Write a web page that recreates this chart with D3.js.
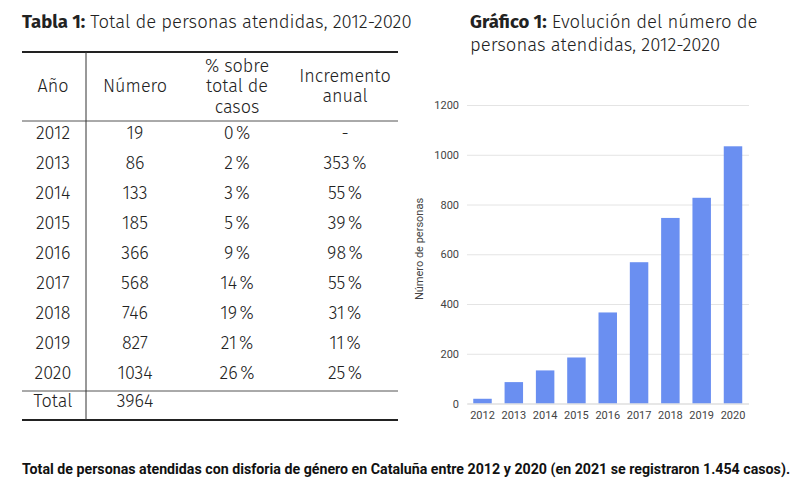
<!DOCTYPE html>
<html><head><meta charset="utf-8">
<script src="https://cdn.jsdelivr.net/npm/d3@7"></script>
<style>
body{margin:0;background:#fff;}
svg{display:block;}
</style></head>
<body><svg id="c" width="797" height="497"></svg>
<script>
const years = [2012, 2013, 2014, 2015, 2016, 2017, 2018, 2019, 2020];
const personas = [19, 86, 133, 185, 366, 568, 746, 827, 1034];
const pctTotal = ["0\u202F%", "2\u202F%", "3\u202F%", "5\u202F%", "9\u202F%", "14\u202F%", "19\u202F%", "21\u202F%", "26\u202F%"];
const incremento = ["-", "353\u202F%", "55\u202F%", "39\u202F%", "98\u202F%", "55\u202F%", "31\u202F%", "11\u202F%", "25\u202F%"];
const total = 3964;
const yTicks = [0, 200, 400, 600, 800, 1000, 1200];

const svg = d3.select("#c");
const tFont = "'Fira Sans','Noto Sans','Open Sans',sans-serif";
const txt = "#222";

// ---- Table ----
svg.append("text").attr("x", 22).attr("y", 28).attr("font-family", tFont).attr("font-size", 18.5).attr("fill", txt)
  .call(t => {
    t.append("tspan").attr("font-weight", 700).text("Tabla 1:");
    t.append("tspan").attr("font-weight", 300).text(" Total de personas atendidas, 2012-2020");
  });

const colX = [53, 135, 237, 345];
const rowY = d3.scaleBand().domain(years).range([118, 388]);
const hdr = svg.append("g").attr("font-family", tFont).attr("font-size", 18).attr("font-weight", 300).attr("fill", txt).attr("text-anchor", "middle");
const headers = [["Año"], ["Número"], ["% sobre", "total de", "casos"], ["Incremento", "anual"]];
headers.forEach((lines, i) => {
  const lh = 20.5;
  const start = 86 - (lines.length - 1) * lh / 2;
  lines.forEach((l, j) => hdr.append("text").attr("x", colX[i]).attr("y", start + j * lh + 6).text(l));
});

const body = svg.append("g").attr("font-family", tFont).attr("font-size", 18).attr("font-weight", 300).attr("fill", txt).attr("text-anchor", "middle");
years.forEach((yr, i) => {
  const cy = rowY(yr) + rowY.bandwidth() / 2 + 6;
  const row = [yr, personas[i], pctTotal[i], incremento[i]];
  row.forEach((v, k) => body.append("text").attr("x", colX[k]).attr("y", cy).text(v));
});
body.append("text").attr("x", 53).attr("y", 407).text("Total");
body.append("text").attr("x", 135).attr("y", 407).text(total);

svg.append("line").attr("x1", 22).attr("x2", 398).attr("y1", 52).attr("y2", 52).attr("stroke", "#222").attr("stroke-width", 2);
svg.append("line").attr("x1", 22).attr("x2", 398).attr("y1", 121).attr("y2", 121).attr("stroke", "#555").attr("stroke-width", 1);
svg.append("line").attr("x1", 22).attr("x2", 398).attr("y1", 391).attr("y2", 391).attr("stroke", "#555").attr("stroke-width", 1);
svg.append("line").attr("x1", 22).attr("x2", 398).attr("y1", 420).attr("y2", 420).attr("stroke", "#222").attr("stroke-width", 2);
svg.append("line").attr("x1", 86).attr("x2", 86).attr("y1", 52).attr("y2", 420).attr("stroke", "#333").attr("stroke-width", 1);

// ---- Chart ----
svg.append("text").attr("x", 470).attr("y", 28).attr("font-family", tFont).attr("font-size", 18.5).attr("fill", txt)
  .call(t => {
    t.append("tspan").attr("font-weight", 700).text("Gráfico 1:");
    t.append("tspan").attr("font-weight", 300).text(" Evolución del número de");
  });
svg.append("text").attr("x", 470).attr("y", 51).attr("font-family", tFont).attr("font-size", 18.5).attr("font-weight", 300).attr("fill", txt)
  .text("personas atendidas, 2012-2020");

const x = d3.scaleBand().domain(years).range([467, 748.5]).paddingInner(0.41).paddingOuter(0.2);
const y = d3.scaleLinear().domain([0, 1200]).range([403.5, 105]);
const cFont = "Roboto, Arial, sans-serif";

const ya = svg.append("g").attr("transform", "translate(467,0)")
  .call(d3.axisLeft(y).tickValues(yTicks).tickFormat(d3.format("d")).tickSize(-282).tickPadding(8));
ya.select(".domain").remove();
ya.selectAll(".tick line").attr("stroke", "#e4e4e4");
ya.selectAll(".tick text").attr("font-family", cFont).attr("font-size", 11).attr("fill", "#444");

svg.append("g").selectAll("rect").data(years).join("rect")
  .attr("x", d => x(d)).attr("width", x.bandwidth())
  .attr("y", (d, i) => y(personas[i])).attr("height", (d, i) => y(0) - y(personas[i]))
  .attr("fill", "#6a8ff1");

const xa = svg.append("g").attr("transform", "translate(0,403.5)")
  .call(d3.axisBottom(x).tickSize(0).tickPadding(8));
xa.select(".domain").attr("stroke", "#ddd");
xa.selectAll(".tick text").attr("font-family", cFont).attr("font-size", 11).attr("fill", "#444");

svg.append("text").attr("transform", "translate(423,249) rotate(-90)").attr("text-anchor", "middle")
  .attr("font-family", cFont).attr("font-size", 11).attr("fill", "#444").text("Número de personas");

// ---- Caption ----
svg.append("text").attr("x", 22).attr("y", 474).attr("font-family", cFont).attr("font-size", 14).attr("font-weight", 700)
  .attr("fill", "#111").attr("textLength", 768).attr("lengthAdjust", "spacingAndGlyphs")
  .text("Total de personas atendidas con disforia de género en Cataluña entre 2012 y 2020 (en 2021 se registraron 1.454 casos).");
</script></body></html>
